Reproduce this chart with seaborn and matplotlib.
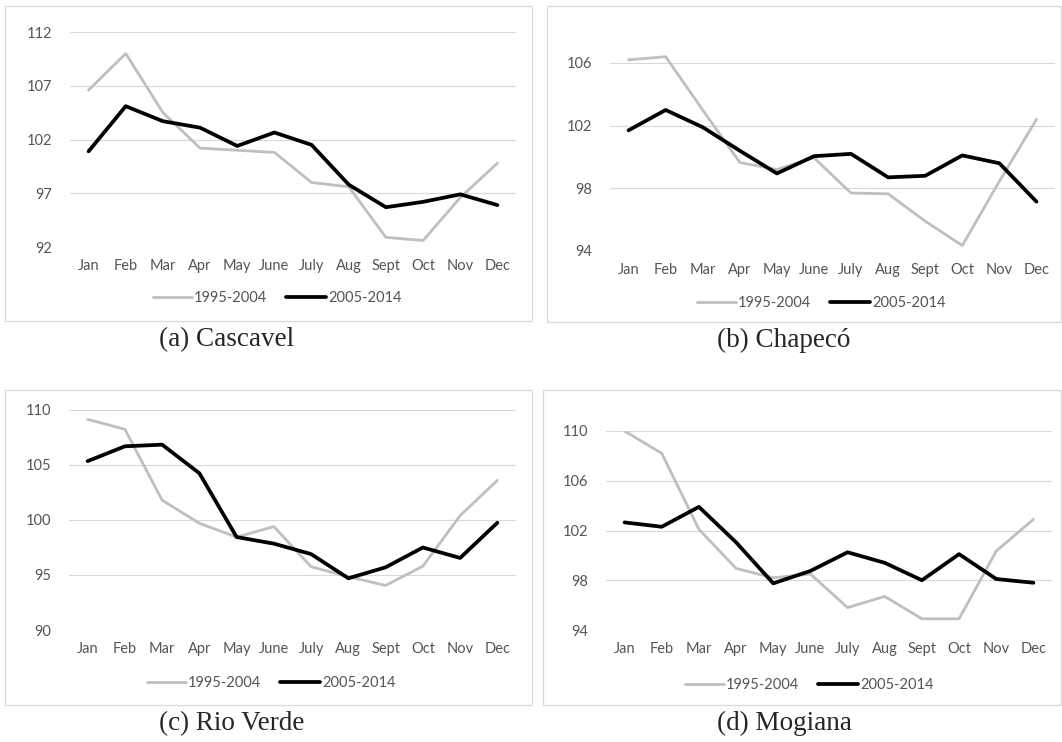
import matplotlib
matplotlib.use("Agg")
import matplotlib.pyplot as plt
from matplotlib.patches import Rectangle
import seaborn as sns
import pandas as pd

MONTHS = ["Jan", "Feb", "Mar", "Apr", "May", "June", "July", "Aug", "Sept", "Oct", "Nov", "Dec"]
PERIODS = ["1995-2004", "2005-2014"]

CASCAVEL_OLD = [106.6, 110.0, 104.5, 101.2, 101.0, 100.8, 98.0, 97.6, 92.9, 92.6, 96.6, 99.8]
CASCAVEL_NEW = [100.9, 105.1, 103.7, 103.1, 101.4, 102.65, 101.5, 97.8, 95.7, 96.2, 96.9, 95.9]
CHAPECO_OLD = [106.2, 106.4, 103.0, 99.65, 99.2, 99.95, 97.7, 97.65, 95.9, 94.35, 98.45, 102.4]
CHAPECO_NEW = [101.7, 103.0, 101.9, 100.4, 98.95, 100.05, 100.2, 98.7, 98.8, 100.1, 99.6, 97.15]
RIOVERDE_OLD = [109.15, 108.25, 101.8, 99.7, 98.45, 99.4, 95.75, 94.85, 94.05, 95.8, 100.4, 103.6]
RIOVERDE_NEW = [105.35, 106.7, 106.85, 104.25, 98.45, 97.85, 96.9, 94.7, 95.7, 97.5, 96.55, 99.75]
MOGIANA_OLD = [110.0, 108.2, 102.1, 98.95, 98.2, 98.5, 95.8, 96.7, 94.9, 94.9, 100.35, 102.9]
MOGIANA_NEW = [102.65, 102.3, 103.9, 101.05, 97.75, 98.75, 100.25, 99.4, 98.0, 100.1, 98.1, 97.8]

CAPTIONS = ["(a) Cascavel", "(b) Chapecó", "(c) Rio Verde", "(d) Mogiana"]
YTICKS = [
    [92, 97, 102, 107, 112],
    [94, 98, 102, 106],
    [90, 95, 100, 105, 110],
    [94, 98, 102, 106, 110],
]

W, H = 1062, 742
GRAY, BLACK = "#BFBFBF", "#000000"
TXT = "#555555"
EDGE = "#D9D9D9"

sns.set_style("white")
plt.rcParams["font.family"] = ["Lato", "DejaVu Sans"]

fig = plt.figure(figsize=(W / 100, H / 100), dpi=100)


def fig_rect(x0, y0, x1, y1):
    # pixel box (top-left origin) -> figure fraction
    return [x0 / W, 1 - y1 / H, (x1 - x0) / W, (y1 - y0) / H]


# layout in pixels: axes box, outer frame, legend centre, caption centre, ylim
layout = [
    dict(ax=(70, 32, 516, 247), frame=(5, 6, 532, 321), leg=(277, 298), cap=(227, 340), ylim=(92, 112)),
    dict(ax=(610, 47.3, 1055, 251), frame=(547, 6, 1061, 322), leg=(821, 303), cap=(784, 340), ylim=(94, 107)),
    dict(ax=(69, 410, 516, 630), frame=(5, 390, 532, 705), leg=(271, 683), cap=(232, 724), ylim=(90, 110)),
    dict(ax=(606, 431, 1052, 630), frame=(543, 390, 1061, 705), leg=(809, 685), cap=(784, 723), ylim=(94, 110)),
]
series = [
    (CASCAVEL_OLD, CASCAVEL_NEW),
    (CHAPECO_OLD, CHAPECO_NEW),
    (RIOVERDE_OLD, RIOVERDE_NEW),
    (MOGIANA_OLD, MOGIANA_NEW),
]

for i, (lay, (old, new)) in enumerate(zip(layout, series)):
    fx, fy, fw, fh = fig_rect(*lay["frame"])
    fig.patches.append(Rectangle(
        (fx, fy), fw, fh, transform=fig.transFigure,
        fill=False, edgecolor=EDGE, linewidth=0.9, zorder=0,
    ))

    ax = fig.add_axes(fig_rect(*lay["ax"]))
    df = pd.DataFrame({
        "month": MONTHS * 2,
        "value": old + new,
        "period": [PERIODS[0]] * 12 + [PERIODS[1]] * 12,
    })
    sns.lineplot(
        data=df, x="month", y="value", hue="period", size="period",
        palette={PERIODS[0]: GRAY, PERIODS[1]: BLACK},
        sizes={PERIODS[0]: 2.0, PERIODS[1]: 2.7},
        sort=False, ax=ax, legend=False,
    )
    ax.set_xlim(-0.5, 11.5)
    ax.set_ylim(*lay["ylim"])
    ax.set_yticks(YTICKS[i])
    ax.set_xlabel("")
    ax.set_ylabel("")
    ax.grid(axis="y", color=EDGE, linewidth=0.8)
    ax.grid(axis="x", visible=False)
    ax.set_axisbelow(True)
    for s in ax.spines.values():
        s.set_visible(False)
    ax.patch.set_alpha(0)
    ax.tick_params(axis="x", length=0, labelsize=10.5, labelcolor=TXT, pad=8.5)
    ax.tick_params(axis="y", length=0, labelsize=10.5, labelcolor=TXT, pad=13)

    cx, cy = lay["leg"]
    ax.legend(
        handles=ax.lines[:2], labels=PERIODS, loc="center",
        bbox_to_anchor=(cx / W, 1 - cy / H), bbox_transform=fig.transFigure,
        ncol=2, frameon=False, fontsize=10.5, handlelength=2.7,
        handletextpad=0.15, columnspacing=1.3, labelcolor=TXT,
    )

    fig.text(lay["cap"][0] / W, 1 - lay["cap"][1] / H, CAPTIONS[i],
             ha="center", va="center", family="Liberation Serif", fontsize=19.5)

fig.savefig("out.png", dpi=100)
